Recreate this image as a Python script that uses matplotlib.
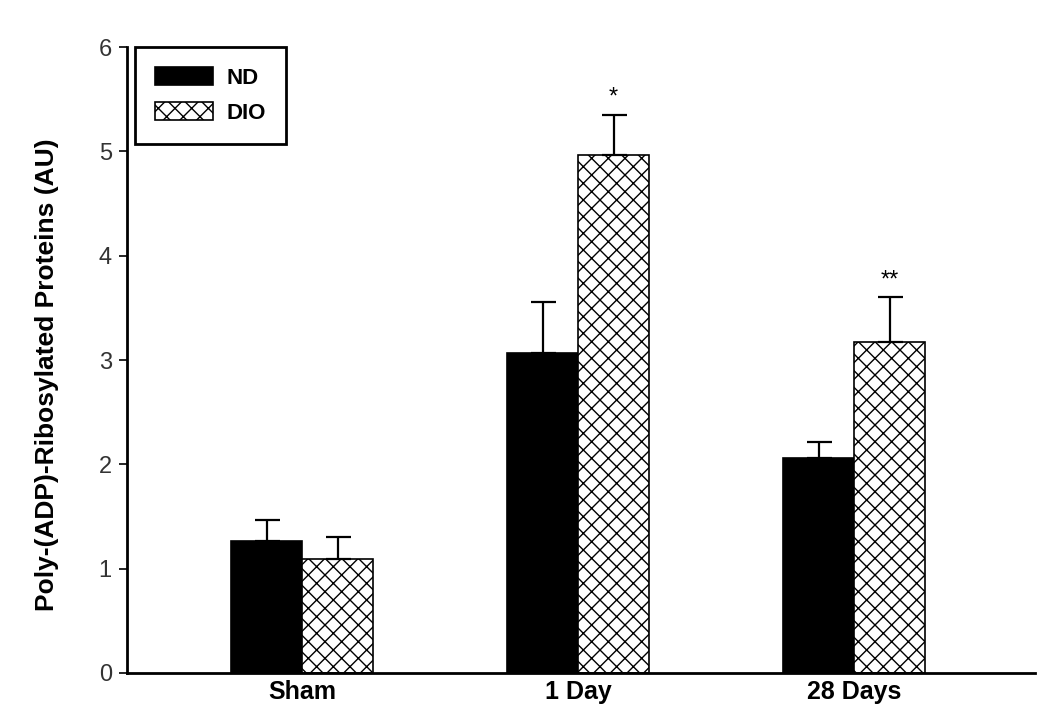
import numpy as np
import matplotlib
matplotlib.use('Agg')
import matplotlib.pyplot as plt

plt.rcParams['font.family'] = ['Liberation Sans', 'DejaVu Sans']
plt.rcParams['hatch.linewidth'] = 1.0
plt.rcParams['hatch.color'] = '#3a3a3a'

groups = ['Sham', '1 Day', '28 Days']
nd_mean = [1.26, 3.07, 2.06]
nd_err = [0.21, 0.49, 0.15]
dio_mean = [1.09, 4.97, 3.17]
dio_err = [0.21, 0.38, 0.43]
dio_marks = ['', '*', '**']

x = np.arange(len(groups))
w = 0.257

fig = plt.figure(figsize=(10.5, 7.15), dpi=100)
ax = fig.add_axes([0.121, 0.059, 0.865, 0.875])

ekw = dict(elinewidth=1.6, capthick=1.6, ecolor='black')
ax.bar(x - w / 2, nd_mean, w, color='black', edgecolor='black', linewidth=1.2,
       yerr=[np.zeros(3), nd_err], capsize=9, error_kw=ekw, label='ND')
ax.bar(x + w / 2, dio_mean, w, color='white', edgecolor='black', linewidth=1.2,
       hatch='xx', yerr=[np.zeros(3), dio_err], capsize=9, error_kw=ekw, label='DIO')

for xi, m, e, s in zip(x, dio_mean, dio_err, dio_marks):
    if s:
        ax.text(xi + w / 2, m + e + 0.06, s, ha='center', va='bottom', fontsize=17)

ax.set_xlim(-0.634, 2.656)
ax.set_ylim(0, 6)
ax.set_yticks(range(7))
ax.set_xticks(x)
ax.set_xticklabels(groups, fontsize=18, fontweight='bold')
ax.tick_params(axis='x', length=0, pad=5)
ax.tick_params(axis='y', labelsize=17, labelcolor='#333333', width=1.2, length=6, pad=5)
ax.set_ylabel('Poly-(ADP)-Ribosylated Proteins (AU)', fontsize=19, fontweight='bold')
ax.yaxis.set_label_coords(-0.075, 0.476)

for side in ['top', 'right']:
    ax.spines[side].set_visible(False)
for side in ['left', 'bottom']:
    ax.spines[side].set_linewidth(2)

leg = ax.legend(loc='upper left', bbox_to_anchor=(0.009, 1.0), borderaxespad=0,
                fancybox=False, edgecolor='black', framealpha=1,
                prop={'weight': 'bold', 'size': 16},
                handlelength=2.6, handleheight=0.85, handletextpad=0.6,
                borderpad=0.9, labelspacing=0.6)
leg.get_frame().set_linewidth(2)

fig.savefig('out.png', dpi=100)
